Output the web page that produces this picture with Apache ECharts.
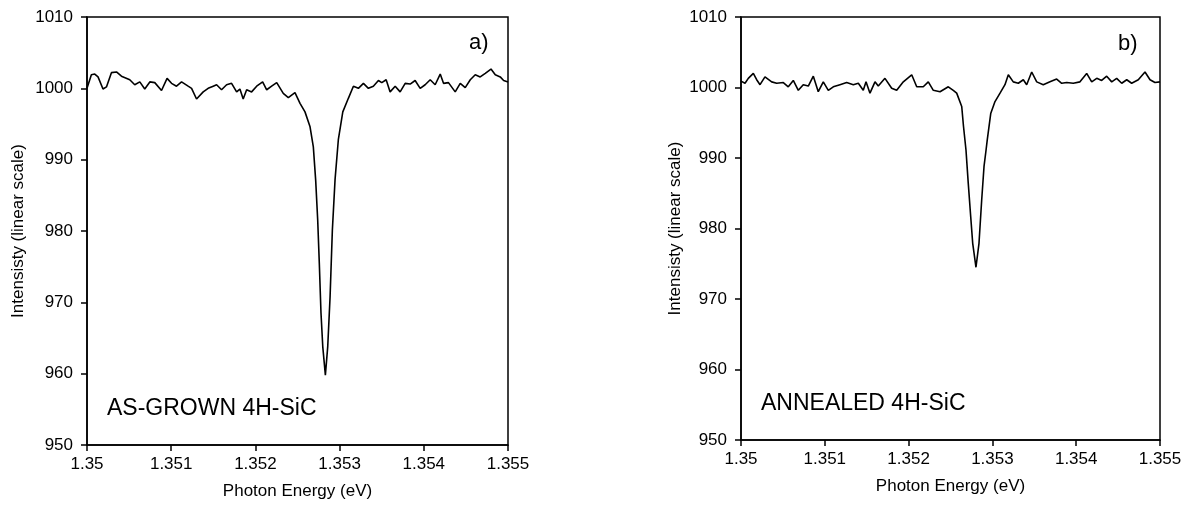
<!DOCTYPE html>
<html><head><meta charset="utf-8">
<script src="https://cdn.jsdelivr.net/npm/echarts@6/dist/echarts.min.js"></script>
<style>html,body{margin:0;padding:0;background:#fff}#c{width:1189px;height:508px}</style>
</head><body><div id="c"></div>
<script>
// Left panel (a) AS-GROWN: photon energy (eV) and intensity
const energyA = [1.350000,1.350052,1.350092,1.350131,1.350190,1.350231,1.350290,1.350350,1.350409,1.350508,1.350567,1.350627,1.350686,1.350746,1.350805,1.350885,1.350951,1.351004,1.351063,1.351123,1.351201,1.351242,1.351301,1.351380,1.351439,1.351499,1.351539,1.351598,1.351658,1.351717,1.351777,1.351816,1.351855,1.351896,1.351955,1.352015,1.352086,1.352134,1.352193,1.352253,1.352331,1.352391,1.352470,1.352530,1.352589,1.352649,1.352688,1.352716,1.352740,1.352759,1.352779,1.352800,1.352831,1.352859,1.352887,1.352914,1.352946,1.352985,1.353038,1.353104,1.353164,1.353223,1.353283,1.353342,1.353401,1.353461,1.353501,1.353553,1.353600,1.353660,1.353719,1.353779,1.353838,1.353897,1.353957,1.354016,1.354076,1.354135,1.354195,1.354234,1.354293,1.354373,1.354433,1.354492,1.354552,1.354611,1.354670,1.354730,1.354798,1.354849,1.354908,1.354948,1.355000];
const intensityA = [1000.0,1001.9,1002.0,1001.6,999.9,1000.2,1002.2,1002.3,1001.7,1001.2,1000.5,1000.9,999.9,1000.9,1000.8,999.7,1001.4,1000.7,1000.3,1000.9,1000.3,1000.0,998.5,999.5,1000.0,1000.3,1000.5,999.8,1000.5,1000.7,999.5,999.9,998.5,999.8,999.5,1000.3,1000.9,999.8,1000.3,1000.8,999.3,998.7,999.4,997.9,996.7,994.6,991.8,987.1,981.5,975.5,968.5,963.8,959.8,963.8,970.8,980.1,987.2,992.8,996.7,998.6,1000.3,1000.0,1000.7,1000.0,1000.3,1001.1,1000.8,1001.2,999.5,1000.3,999.5,1000.7,1000.6,1001.1,1000.0,1000.5,1001.2,1000.5,1002.0,1000.7,1000.8,999.5,1000.7,1000.1,1001.2,1001.9,1001.6,1002.1,1002.7,1001.9,1001.6,1001.1,1000.9];
// Right panel (b) ANNEALED
const energyB = [1.350000,1.350048,1.350087,1.350147,1.350187,1.350227,1.350286,1.350366,1.350426,1.350505,1.350564,1.350624,1.350684,1.350743,1.350803,1.350863,1.350922,1.350982,1.351042,1.351101,1.351181,1.351261,1.351340,1.351400,1.351459,1.351492,1.351539,1.351599,1.351638,1.351718,1.351798,1.351858,1.351937,1.352037,1.352097,1.352175,1.352235,1.352295,1.352375,1.352474,1.352533,1.352574,1.352634,1.352655,1.352685,1.352712,1.352741,1.352765,1.352804,1.352840,1.352872,1.352900,1.352924,1.352939,1.352980,1.353031,1.353091,1.353150,1.353190,1.353249,1.353309,1.353369,1.353409,1.353469,1.353529,1.353607,1.353687,1.353767,1.353827,1.353887,1.353965,1.354045,1.354125,1.354185,1.354245,1.354304,1.354364,1.354424,1.354483,1.354543,1.354603,1.354662,1.354741,1.354821,1.354881,1.354940,1.355000];
const intensityB = [1000.9,1000.6,1001.3,1002.0,1001.1,1000.4,1001.5,1000.8,1000.6,1000.7,1000.1,1001.0,999.6,1000.4,1000.2,1001.6,999.4,1000.8,999.6,1000.1,1000.4,1000.7,1000.4,1000.6,999.6,1000.8,999.2,1000.8,1000.2,1001.3,999.9,999.6,1000.8,1001.8,1000.1,1000.1,1000.8,999.6,999.4,1000.1,999.6,999.2,997.3,994.5,991.1,986.4,981.7,977.9,974.5,977.9,984.0,988.8,991.1,992.6,996.3,998.0,999.2,1000.4,1001.8,1000.8,1000.6,1001.1,1000.4,1002.2,1000.8,1000.4,1000.8,1001.2,1000.6,1000.7,1000.6,1000.8,1002.0,1000.8,1001.3,1001.0,1001.6,1000.8,1001.3,1000.6,1001.1,1000.6,1001.1,1002.2,1001.1,1000.7,1000.8];
const xTitle = 'Photon Energy (eV)';
const yTitle = 'Intensisty (linear scale)';
const panelLabels = ['a)', 'b)'];
const sampleLabels = ['AS-GROWN 4H-SiC', 'ANNEALED 4H-SiC'];

const FONT = 'Liberation Sans, Arial, sans-serif';
function zip(xs, ys){ return xs.map((x,i)=>[x, ys[i]]); }
function xAxis(idx){
  return {
    type:'value', gridIndex:idx, min:1.35, max:1.355, interval:0.001,
    name:xTitle, nameLocation:'middle', nameGap:38,
    nameTextStyle:{fontFamily:FONT, fontSize:17, color:'#000'},
    axisLine:{lineStyle:{color:'#000', width:1.5}},
    axisTick:{show:true, inside:false, length:6, lineStyle:{color:'#000', width:1.5}},
    axisLabel:{fontFamily:FONT, fontSize:17, color:'#000', margin:11, formatter:v=>String(+v.toFixed(3))},
    splitLine:{show:false}
  };
}
function yAxis(idx, gap){
  return {
    type:'value', gridIndex:idx, min:950, max:1010, interval:10,
    name:yTitle, nameLocation:'middle', nameGap:gap, nameRotate:90,
    nameTextStyle:{fontFamily:FONT, fontSize:17, color:'#000'},
    axisLine:{show:true, lineStyle:{color:'#000', width:1.5}},
    axisTick:{show:true, inside:false, length:6, lineStyle:{color:'#000', width:1.5}},
    axisLabel:{fontFamily:FONT, fontSize:17, color:'#000', margin:14, formatter:v=>String(v)},
    splitLine:{show:false}
  };
}
const chart = echarts.init(document.getElementById('c'), null, {renderer:'canvas'});
chart.setOption({
  animation:false,
  backgroundColor:'#fff',
  grid:[
    {left:87, top:17, width:421, height:428, show:true, borderColor:'#000', borderWidth:1.5, backgroundColor:'transparent'},
    {left:741, top:17, width:419, height:423, show:true, borderColor:'#000', borderWidth:1.5, backgroundColor:'transparent'}
  ],
  xAxis:[xAxis(0), xAxis(1)],
  yAxis:[yAxis(0, 60), yAxis(1, 57)],
  series:[
    {type:'line', xAxisIndex:0, yAxisIndex:0, data:zip(energyA, intensityA), showSymbol:false, smooth:false, lineStyle:{color:'#000', width:1.6}},
    {type:'line', xAxisIndex:1, yAxisIndex:1, data:zip(energyB, intensityB), showSymbol:false, smooth:false, lineStyle:{color:'#000', width:1.6}}
  ],
  graphic:[
    {type:'text', left:469, top:32, style:{text:panelLabels[0], font:'22px '+FONT, fill:'#000'}},
    {type:'text', left:1118, top:33, style:{text:panelLabels[1], font:'22px '+FONT, fill:'#000'}},
    {type:'text', left:107, top:397, style:{text:sampleLabels[0], font:'23px '+FONT, fill:'#000'}},
    {type:'text', left:761, top:392, style:{text:sampleLabels[1], font:'23px '+FONT, fill:'#000'}}
  ]
});
</script></body></html>
